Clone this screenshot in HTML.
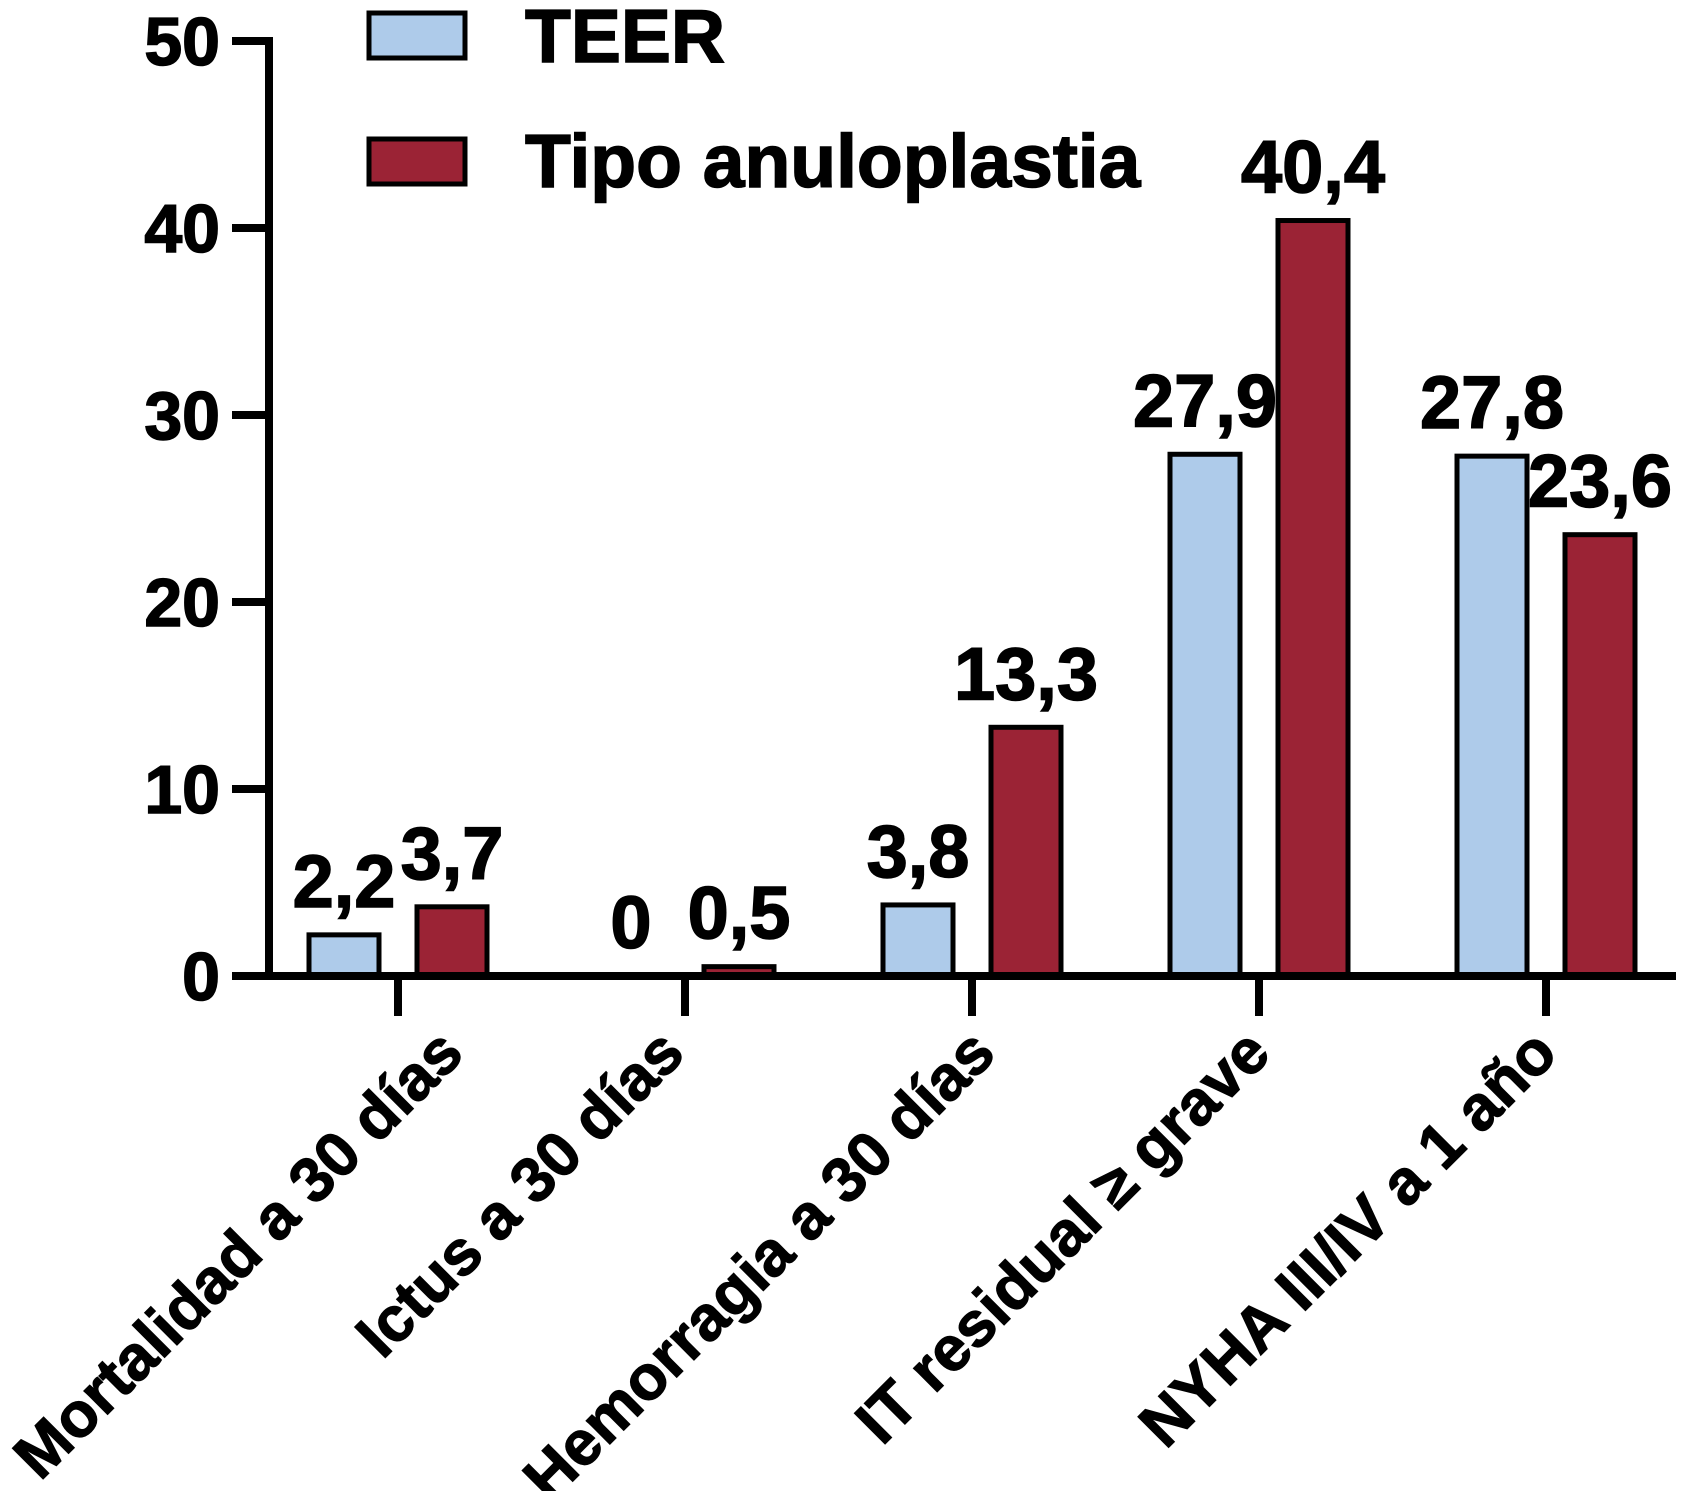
<!DOCTYPE html>
<html><head><meta charset="utf-8"><style>
html,body{margin:0;padding:0;background:#fff}
svg{display:block;font-family:"Liberation Sans",Arial,sans-serif;font-weight:bold}
</style></head><body>
<svg id="chart" width="1687" height="1491" viewBox="0 0 1687 1491" xmlns="http://www.w3.org/2000/svg">
<g id="legend">
<rect x="369" y="13" width="96" height="45" fill="#aecbea" stroke="#000" stroke-width="5"/>
<text x="525" y="62" font-size="75" stroke="#000" stroke-width="1.5">TEER</text>
<rect x="369" y="139" width="96" height="45" fill="#9b2335" stroke="#000" stroke-width="5"/>
<text x="525" y="187" font-size="75" stroke="#000" stroke-width="1.5">Tipo anuloplastia</text>
</g>
<g id="plot"></g>
</svg>
<script>
const categories = ["Mortalidad a 30 días","Ictus a 30 días","Hemorragia a 30 días","IT residual \u2265 grave","NYHA III/IV a 1 año"];
const teerValues = [2.2, 0, 3.8, 27.9, 27.8];
const anuloValues = [3.7, 0.5, 13.3, 40.4, 23.6];
const teerLabels = ["2,2","0","3,8","27,9","27,8"];
const anuloLabels = ["3,7","0,5","13,3","40,4","23,6"];
const yTicks = [0,10,20,30,40,50];

const NS="http://www.w3.org/2000/svg";
const g=document.getElementById('plot');
const y0=976, pxPer=18.7, axX=269;
const labelDx=[68,2,26,14,14];
function yS(v){return y0-v*pxPer;}
function xC(i){return 398+i*287;}
function el(t,a,txt){const e=document.createElementNS(NS,t);for(const k in a)e.setAttribute(k,a[k]);if(txt!==undefined)e.textContent=txt;g.appendChild(e);return e;}

categories.forEach((c,i)=>{
  const cx=xC(i);
  const b1=el('rect',{x:cx-89,y:yS(teerValues[i]),width:70,height:Math.max(0,y0-yS(teerValues[i])),fill:'#aecbea',stroke:'#000','stroke-width':5});
  
  
  const b2=el('rect',{x:cx+19,y:yS(anuloValues[i]),width:70,height:Math.max(0,y0-yS(anuloValues[i])),fill:'#9b2335',stroke:'#000','stroke-width':5});
  
  
  const l1=el('text',{x:cx-54,y:yS(teerValues[i])-28,'font-size':74,'text-anchor':'middle',stroke:'#000','stroke-width':1.5},teerLabels[i]);
  
  
  const l2=el('text',{x:cx+54,y:yS(anuloValues[i])-28,'font-size':74,'text-anchor':'middle',stroke:'#000','stroke-width':1.5},anuloLabels[i]);
  
  
  const t=el('line',{x1:cx,y1:y0,x2:cx,y2:1016,stroke:'#000','stroke-width':8});
  
  
  const lx=cx+labelDx[i], ly=1056;
  const cl=el('text',{x:lx,y:ly,'font-size':63,'text-anchor':'end',stroke:'#000','stroke-width':1.2,transform:`rotate(-45 ${lx} ${ly})`},c);
  
  
});

yTicks.forEach(v=>{
  const t=el('line',{x1:232,y1:yS(v),x2:axX,y2:yS(v),stroke:'#000','stroke-width':8});
  
  
  const l=el('text',{x:220,y:yS(v)+24,'font-size':68,'text-anchor':'end',stroke:'#000','stroke-width':1.5},String(v));
  
  
});
const ya=el('line',{x1:axX,y1:yS(50)-4,x2:axX,y2:y0+4,stroke:'#000','stroke-width':8});


const xa=el('line',{x1:axX-4,y1:y0,x2:1676,y2:y0,stroke:'#000','stroke-width':8});


</script>
</body></html>
